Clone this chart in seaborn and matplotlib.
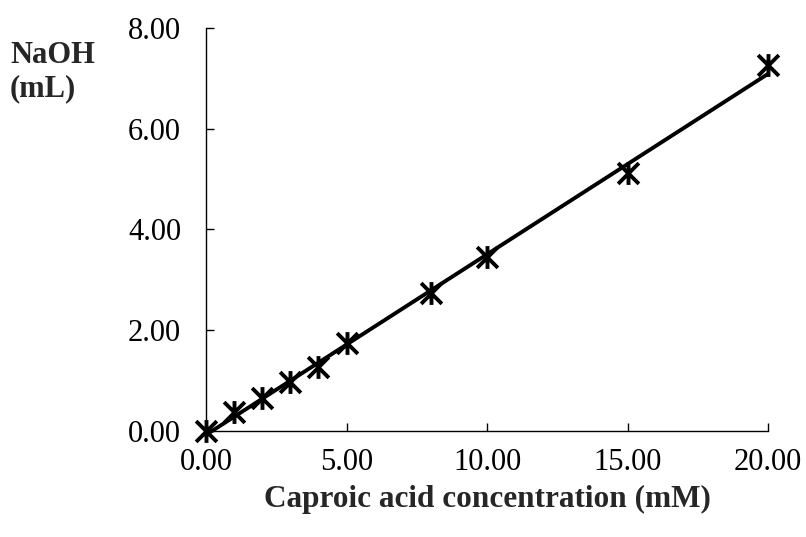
import numpy as np
import pandas as pd
import matplotlib
matplotlib.use("Agg")
import matplotlib.pyplot as plt
from matplotlib.path import Path
import seaborn as sns

conc = [0, 1, 2, 3, 4, 5, 8, 10, 15, 20]
naoh = [0.0, 0.37, 0.65, 0.97, 1.27, 1.75, 2.73, 3.46, 5.13, 7.27]
xticks = [0, 5, 10, 15, 20]
yticks = [0, 2, 4, 6, 8]

df = pd.DataFrame({"conc": conc, "naoh": naoh})

sns.set_theme(style="white")
plt.rcParams['font.family'] = ['Liberation Serif', 'DejaVu Serif']

star = Path([(-1, -1), (1, 1), (-1, 1), (1, -1), (0, -1.1), (0, 1.1)],
            [Path.MOVETO, Path.LINETO, Path.MOVETO, Path.LINETO, Path.MOVETO, Path.LINETO])

fig = plt.figure(figsize=(8.06, 5.37), dpi=100)
ax = fig.add_axes([0.2556, 0.1974, 0.953 - 0.2556, 0.948 - 0.1974])

sns.regplot(data=df, x="conc", y="naoh", ax=ax, ci=None, scatter=False,
            color="black", line_kws={"linewidth": 2.8})
sns.scatterplot(data=df, x="conc", y="naoh", ax=ax, marker=star,
                s=270, color="black", linewidth=2.8, edgecolor="black", zorder=5)

ax.set_xlim(0, 20)
ax.set_ylim(0, 8)
ax.set_xticks(xticks)
ax.set_yticks(yticks)
ax.set_xticklabels([f"{v:.2f}" for v in xticks])
ax.set_yticklabels([f"{v:.2f}" for v in yticks])
ax.tick_params(direction="in", length=6, width=1.0, colors="black",
               labelsize=22, left=True, bottom=True)
ax.tick_params(axis="y", pad=18)
ax.tick_params(axis="x", pad=12)
for s in ["top", "right"]:
    ax.spines[s].set_visible(False)
for s in ["left", "bottom"]:
    ax.spines[s].set_color("black")
    ax.spines[s].set_linewidth(1.0)
ax.set_xlabel("Caproic acid concentration (mM)", fontsize=22.5, fontweight="bold",
              labelpad=6)
ax.set_ylabel("")
for c in ax.collections:
    c.set_clip_on(False)
for l in ax.lines:
    l.set_clip_on(False)

fig.text(10 / 806, 1 - 72 / 537, "NaOH\n(mL)", fontsize=22, fontweight="bold",
         ha="left", va="center", linespacing=1.2)

fig.savefig("out.png", dpi=100)
